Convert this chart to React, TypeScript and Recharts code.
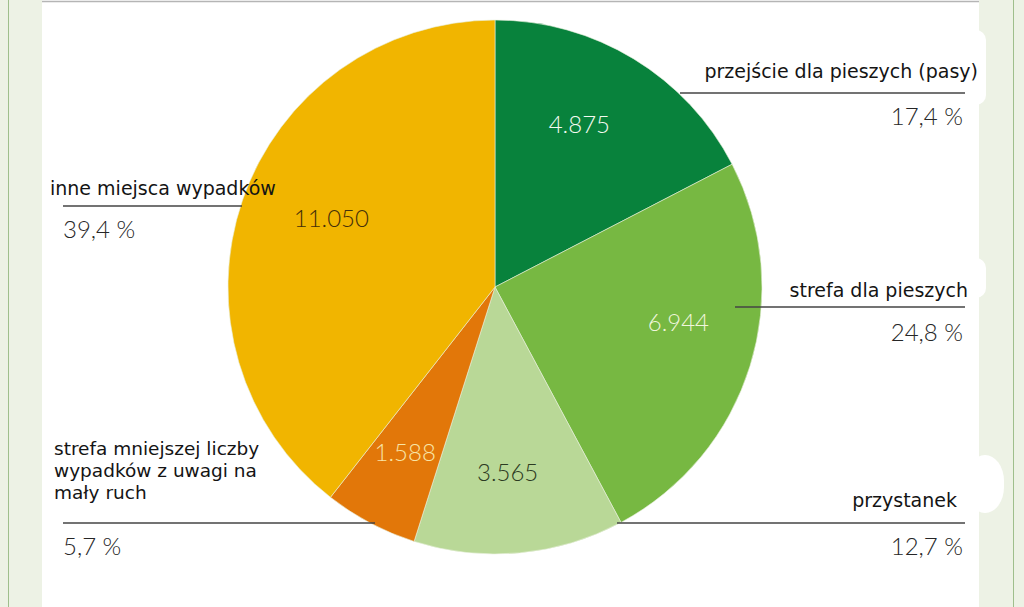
import React from "react";
import { PieChart, Pie, Cell } from "recharts";

// ---- data ----
const categories = [
  "przejście dla pieszych (pasy)",
  "strefa dla pieszych",
  "przystanek",
  "strefa mniejszej liczby wypadków z uwagi na mały ruch",
  "inne miejsca wypadków",
];
const values = [4875, 6944, 3565, 1588, 11050];
const labelLines: string[][] = [
  ["przejście dla pieszych (pasy)"],
  ["strefa dla pieszych"],
  ["przystanek"],
  ["strefa mniejszej liczby", "wypadków z uwagi na", "mały ruch"],
  ["inne miejsca wypadków"],
];

// ---- styles / layout ----
const colors = ["#08823c", "#77b842", "#b9d897", "#e27709", "#f1b500"];
const innerTextColors = ["#f4faf0", "#f0f6dc", "#2c3a22", "#f8e4a6", "#45300a"];
// small per-slice nudges of the inner value labels (pixels)
const labelNudge: [number, number][] = [
  [-10, -8],
  [10, -19],
  [-4, 4],
  [-5, 4],
  [8, -10],
];

const W = 1024;
const H = 607;
const CX = 495;
const CY = 287;
const R = 267;

type Anno = {
  side: "left" | "right";
  textX: number;
  textY: number;
  lineY: number;
  lineX1: number;
  lineX2: number;
  pctX: number;
  pctY: number;
};
const annos: Anno[] = [
  { side: "right", textX: 978, textY: 78, lineY: 93, lineX1: 680, lineX2: 965, pctX: 963, pctY: 125 },
  { side: "right", textX: 968, textY: 297, lineY: 307, lineX1: 735, lineX2: 965, pctX: 963, pctY: 341 },
  { side: "right", textX: 957, textY: 507, lineY: 523, lineX1: 617, lineX2: 965, pctX: 963, pctY: 555 },
  { side: "left", textX: 54, textY: 455, lineY: 523, lineX1: 63, lineX2: 375, pctX: 63, pctY: 555 },
  { side: "left", textX: 50, textY: 195, lineY: 206, lineX1: 63, lineX2: 242, pctX: 63, pctY: 238 },
];

const total = values.reduce((a, b) => a + b, 0);
const fmtNum = (v: number) => String(v).replace(/\B(?=(\d{3})+(?!\d))/g, ".");
const fmtPct = (v: number) => ((v / total) * 100).toFixed(1).replace(".", ",") + " %";

const data = categories.map((name, i) => ({ name, value: values[i] }));

const RAD = Math.PI / 180;
const renderInner = (props: any) => {
  const { cx, cy, midAngle, outerRadius, index, value } = props;
  const r = outerRadius * 0.68;
  const x = cx + r * Math.cos(-midAngle * RAD) + labelNudge[index][0];
  const y = cy + r * Math.sin(-midAngle * RAD) + labelNudge[index][1];
  return (
    <text
      x={x}
      y={y}
      textAnchor="middle"
      dominantBaseline="central"
      fill={innerTextColors[index]}
      style={{ fontFamily: "Lato, 'Open Sans', sans-serif", fontSize: 24, fontWeight: 300 }}
    >
      {fmtNum(value)}
    </text>
  );
};

export default function App() {
  return (
    <div style={{ position: "absolute", left: 0, top: 0, width: W, height: H, background: "#fff", overflow: "hidden" }}>
      <svg width={W} height={H} style={{ position: "absolute", left: 0, top: 0 }}>
        <rect x={0} y={0} width={42} height={H} fill="#edf2e5" />
        <line x1={8.5} y1={0} x2={8.5} y2={H} stroke="#9fbf8c" strokeWidth={1} />
        <rect x={979} y={0} width={45} height={H} fill="#edf2e5" />
        <line x1={1013.5} y1={0} x2={1013.5} y2={H} stroke="#9fbf8c" strokeWidth={1} />
        <rect x={966} y={30} width={20} height={75} rx={10} fill="#fff" />
        <rect x={966} y={258} width={20} height={40} rx={10} fill="#fff" />
        <rect x={966} y={455} width={38} height={58} rx={26} fill="#fff" />
        <line x1={42} y1={1.5} x2={979} y2={1.5} stroke="#b5b5b5" strokeWidth={1.5} />
      </svg>
      <div style={{ position: "absolute", left: 0, top: 0 }}>
        <PieChart width={W} height={H} margin={{ top: 0, right: 0, bottom: 0, left: 0 }}>
          <Pie
            data={data}
            dataKey="value"
            nameKey="name"
            cx={CX}
            cy={CY}
            outerRadius={R}
            innerRadius={0}
            startAngle={90}
            endAngle={-270}
            stroke="#e8f0dc"
            strokeWidth={0.6}
            label={renderInner}
            labelLine={false}
            isAnimationActive={false}
          >
            {data.map((d, i) => (
              <Cell key={d.name} fill={colors[i]} />
            ))}
          </Pie>
        </PieChart>
      </div>
      <svg width={W} height={H} style={{ position: "absolute", left: 0, top: 0, pointerEvents: "none" }}>
        {annos.map((a, i) => {
          const anchor = a.side === "right" ? "end" : "start";
          const multi = labelLines[i].length > 1;
          return (
            <g key={i}>
              {labelLines[i].map((ln, j) => (
                <text
                  key={j}
                  x={a.textX}
                  y={a.textY + j * 22}
                  textAnchor={anchor}
                  fill="#141414"
                  style={{ fontFamily: "'DejaVu Sans', Verdana, sans-serif", fontSize: multi ? 18.5 : 19 }}
                >
                  {ln}
                </text>
              ))}
              <line x1={a.lineX1} y1={a.lineY} x2={a.lineX2} y2={a.lineY} stroke="#444" strokeWidth={1.5} />
              <text
                x={a.pctX}
                y={a.pctY}
                textAnchor={anchor}
                fill="#262626"
                style={{ fontFamily: "Lato, 'Open Sans', sans-serif", fontSize: 24, fontWeight: 300 }}
              >
                {fmtPct(values[i])}
              </text>
            </g>
          );
        })}
      </svg>
    </div>
  );
}
